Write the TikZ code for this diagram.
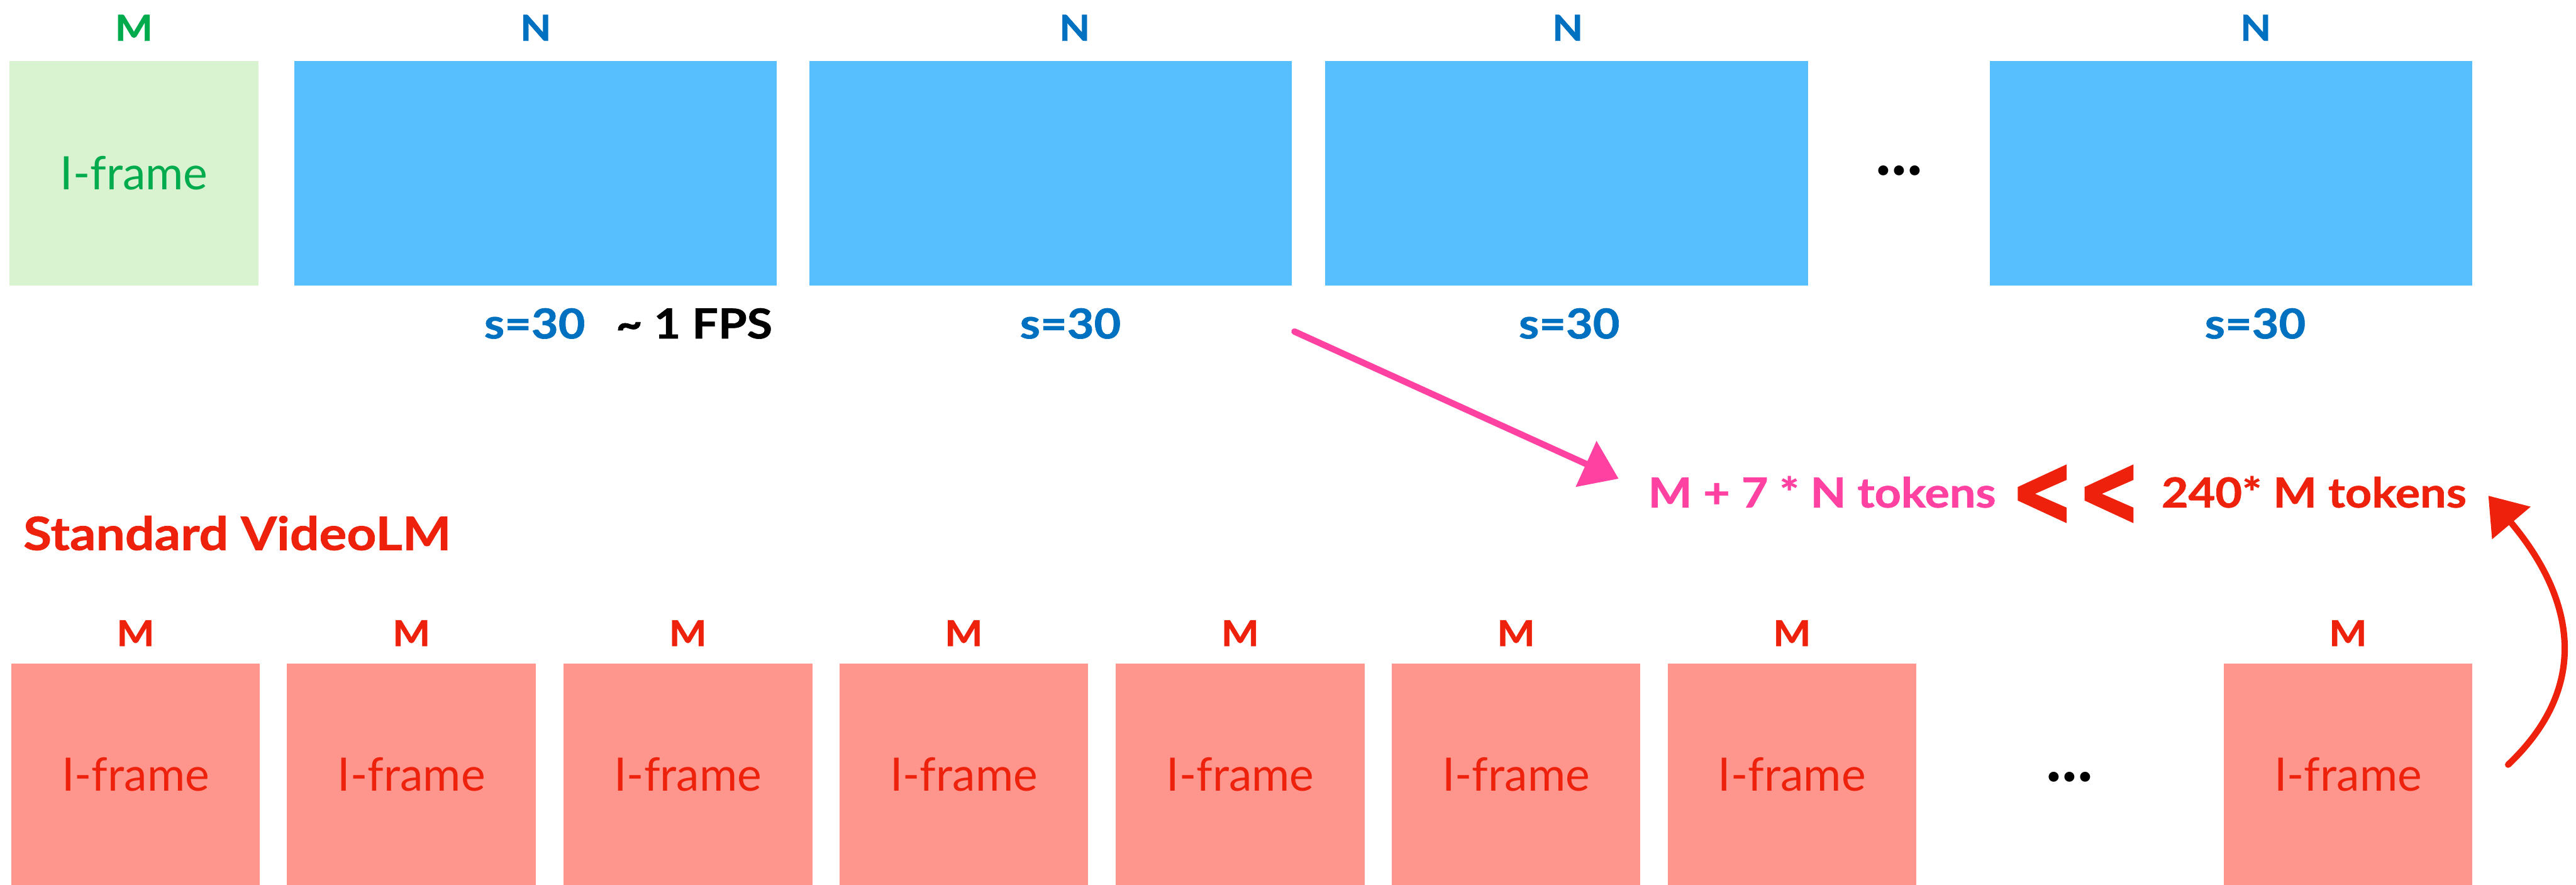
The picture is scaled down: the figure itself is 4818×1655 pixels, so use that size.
\documentclass[tikz,border=0pt]{standalone}
\usepackage{fontspec}
\setmainfont{Lato}
\newfontfamily\hv{Lato}[FakeStretch=1.12, BoldFeatures={FakeBold=1}]
\newfontfamily\chevfont{DejaVu Sans}[BoldFeatures={FakeBold=4}]
\usetikzlibrary{arrows.meta}
\definecolor{gfill}{HTML}{D9F2D0}
\definecolor{gtext}{HTML}{00AB4E}
\definecolor{bfill}{HTML}{57BFFD}
\definecolor{btext}{HTML}{0070C0}
\definecolor{rfill}{HTML}{FF968D}
\definecolor{rtext}{HTML}{EE220C}
\definecolor{pinktext}{HTML}{FF42A1}
\begin{document}
\begin{tikzpicture}[x=0.01cm,y=-0.01cm,
  frame/.style={inner sep=0pt, outer sep=0pt, minimum height=4.2cm, font=\fontsize{24.5}{24.5}\selectfont},
  gbox/.style={frame, fill=gfill, text=gtext, minimum width=4.65cm},
  bbox/.style={frame, fill=bfill, minimum width=9.02cm},
  rbox/.style={frame, fill=rfill, text=rtext, minimum width=4.65cm, minimum height=4.14cm},
  lab/.style={font=\hv\bfseries\fontsize{19}{19}\selectfont, inner sep=0pt},
  sval/.style={font=\hv\bfseries\fontsize{22}{22}\selectfont, text=btext, inner sep=0pt},
  big/.style={font=\hv\bfseries\fontsize{22}{22}\selectfont, inner sep=0pt},
  dots/.style={font=\bfseries\fontsize{35}{35}\selectfont, inner sep=0pt},
  chev/.style={text=rtext, inner sep=0pt, font=\chevfont\bfseries},
  sketch/.style={line width=3.4pt, line cap=round, -{Triangle[length=19pt,width=26pt]}}
]
\useasboundingbox (0,0) rectangle (4818,1655);

% ---- top row ----
\node[gbox] (g) at (250.5,324) {I-frame};
\node[lab,text=gtext] (gm) at (250.5,52) {M};
\node[bbox] (b1) at (1001.5,324) {};
\node[bbox] (b2) at (1965,324) {};
\node[bbox] (b3) at (2930,324) {};
\node[bbox] (b4) at (4172.5,324) {};
\node[lab,text=btext] (n1) at (1002,52) {N};
\node[lab,text=btext] (n2) at (2010,52) {N};
\node[lab,text=btext] (n3) at (2932,52) {N};
\node[lab,text=btext] (n4) at (4219,52) {N};
\node[sval] (s1) at (1000,605) {s=30};
\node[big,text=black,anchor=west] (fps) at (1151,605) {\textasciitilde\ 1 FPS};
\node[sval] (s2) at (2002,605) {s=30};
\node[sval] (s3) at (2935,605) {s=30};
\node[sval] (s4) at (4218,605) {s=30};
\node[dots] (tdots) at (3552,319) {...};

% ---- comparison ----
\node[big,text=pinktext,anchor=west] (pt) at (3082,920) {M + 7 * N tokens};
\node[chev] (c1) at (3819.5,926) {\resizebox{1.15cm}{1.05cm}{<}};
\node[chev] (c2) at (3944.5,926) {\resizebox{1.15cm}{1.05cm}{<}};
\node[big,text=rtext,anchor=west] (rt) at (4042,920) {240* M tokens};

% ---- bottom row ----
\node[big,text=rtext,anchor=west,font=\hv\bfseries\fontsize{24.5}{24.5}\selectfont] (std) at (43,997) {Standard VideoLM};
\foreach \i/\x in {1/253.5,2/769.5,3/1286.5,4/1802.5,5/2319.5,6/2835.5,7/3351.5,8/4391.5}{
  \node[rbox] (r\i) at (\x,1448) {I-frame};
  \node[lab,text=rtext] (m\i) at (\x,1184) {M};
}
\node[dots] (bdots) at (3871,1453) {...};

% ---- arrows ----
\coordinate (pa) at (2421,620);
\draw[sketch, draw=pinktext, shorten >=0.6cm] (pa) -- (pt.west);
\coordinate (ra) at (4691,1430);
\coordinate (rtip) at (4654,927);
\draw[sketch, draw=rtext] (ra) .. controls (4860,1270) and (4800,1100) .. (rtip);
\end{tikzpicture}
\end{document}
